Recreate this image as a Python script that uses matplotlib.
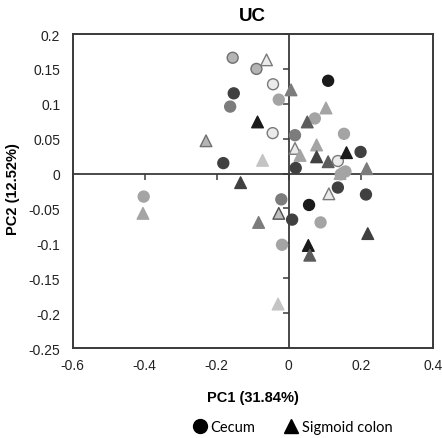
import matplotlib
matplotlib.use("Agg")
import matplotlib.pyplot as plt
from matplotlib.lines import Line2D

plt.rcParams['font.family'] = ['Liberation Sans', 'DejaVu Sans']
plt.rcParams['axes.unicode_minus'] = False

# PCA scores; shade = grey level group of each point
cecum_pc1 = [-0.156, -0.090, -0.044, -0.153, -0.028, -0.163, -0.045, 0.017,
             -0.182, 0.019, 0.109, 0.072, 0.153, 0.199, 0.136, 0.157,
             0.144, 0.136, -0.403, -0.021, 0.009, -0.019, 0.056, 0.214, 0.088]
cecum_pc2 = [0.166, 0.150, 0.128, 0.115, 0.106, 0.096, 0.058, 0.055,
             0.015, 0.008, 0.133, 0.079, 0.057, 0.031, 0.018, 0.003,
             -0.001, -0.020, -0.033, -0.037, -0.066, -0.102, -0.045, -0.030, -0.070]
cecum_shade = ['Le', 'Le', 'O', 'D', 'L', 'M', 'O', 'M',
               'D', 'D', 'K', 'L', 'L', 'D', 'O', 'L',
               'L', 'D', 'L', 'M', 'D', 'L', 'K', 'D', 'L']

sigmoid_pc1 = [-0.062, 0.006, -0.087, -0.230, 0.017, -0.073, -0.134, 0.103,
               0.051, 0.077, 0.031, 0.077, 0.160, 0.109, 0.216, 0.142,
               -0.405, -0.028, -0.084, -0.030, 0.111, 0.219, 0.054, 0.058]
sigmoid_pc2 = [0.163, 0.120, 0.074, 0.047, 0.036, 0.019, -0.013, 0.094,
               0.074, 0.041, 0.026, 0.024, 0.030, 0.017, 0.007, 0.000,
               -0.057, -0.057, -0.070, -0.187, -0.029, -0.086, -0.103, -0.117]
sigmoid_shade = ['O', 'M', 'K', 'Le', 'O', 'VL', 'D', 'L',
                 'MD', 'L', 'L', 'D', 'K', 'MD', 'M', 'L',
                 'L', 'Ld', 'M', 'VL', 'O', 'D', 'K', 'MD']

x_ticks = [-0.6, -0.4, -0.2, 0, 0.2, 0.4]
y_ticks = [-0.25, -0.2, -0.15, -0.1, -0.05, 0, 0.05, 0.1, 0.15, 0.2]

# face / edge colour per shade group
STYLE = {
    'K':  ('#1a1a1a', '#1a1a1a'),
    'D':  ('#404040', '#404040'),
    'MD': ('#5c5c5c', '#5c5c5c'),
    'M':  ('#7c7c7c', '#7c7c7c'),
    'L':  ('#a4a4a4', '#a4a4a4'),
    'Le': ('#b4b4b4', '#707070'),
    'Ld': ('#c0c0c0', '#505050'),
    'VL': ('#c4c4c4', '#c4c4c4'),
    'O':  ('#ebebeb', '#7a7a7a'),
}


def fmt(v):
    return '0' if v == 0 else ('%g' % v)


fig = plt.figure(figsize=(4.42, 4.39), dpi=100)
pos = [0.1645, 0.205, 0.8151, 0.7152]
ax = fig.add_axes(pos)

for xs, ys, shades, mk, size in [(cecum_pc1, cecum_pc2, cecum_shade, 'o', 62),
                                 (sigmoid_pc1, sigmoid_pc2, sigmoid_shade, '^', 70)]:
    face = [STYLE[s][0] for s in shades]
    edge = [STYLE[s][1] for s in shades]
    ax.scatter(xs, ys, marker=mk, s=size, c=face, edgecolors=edge,
               linewidths=1.0, zorder=3)

ax.set_xlim(-0.6, 0.4)
ax.set_ylim(-0.25, 0.2)
ax.set_xticks(x_ticks)
ax.set_yticks(y_ticks)
ax.set_xticklabels([fmt(v) for v in x_ticks])
ax.set_yticklabels([fmt(v) for v in y_ticks])
ax.tick_params(length=0, labelsize=10, colors='#222222')
ax.tick_params(axis='x', pad=7)
ax.tick_params(axis='y', pad=9)
for sp in ax.spines.values():
    sp.set_color('#3a3a3a')
    sp.set_linewidth(1.4)

ax.set_title('UC', fontsize=13.5, fontweight='bold', pad=10)
ax.set_xlabel('PC1 (31.84%)', fontsize=10.5, fontweight='bold')
ax.xaxis.set_label_coords(0.5, -0.133)
ax.set_ylabel('PC2 (12.52%)', fontsize=10.5, fontweight='bold')
ax.yaxis.set_label_coords(-0.147, 0.51)

# zero lines with their own ticks
ax0 = fig.add_axes(pos, frameon=True, sharex=ax, sharey=ax)
ax0.patch.set_visible(False)
for side in ['top', 'right']:
    ax0.spines[side].set_visible(False)
ax0.spines['left'].set_position(('data', 0))
ax0.spines['bottom'].set_position(('data', 0))
for side in ['left', 'bottom']:
    ax0.spines[side].set_color('#3a3a3a')
    ax0.spines[side].set_linewidth(1.3)
ax0.tick_params(direction='out', length=4, width=1.1, colors='#3a3a3a',
                labelleft=False, labelbottom=False)
ax0.set_zorder(ax.get_zorder() - 1)
ax.patch.set_visible(False)

handles = [Line2D([], [], marker='o', linestyle='none', color='black', markersize=10),
           Line2D([], [], marker='^', linestyle='none', color='black', markersize=10)]
fig.legend(handles, ['Cecum', 'Sigmoid colon'], loc='center',
           bbox_to_anchor=(0.66, 0.024), ncol=2, frameon=False,
           prop={'family': 'Lato', 'size': 10.5}, handletextpad=0.1,
           columnspacing=1.9, handlelength=1.2)

fig.savefig('out.png', dpi=100)
